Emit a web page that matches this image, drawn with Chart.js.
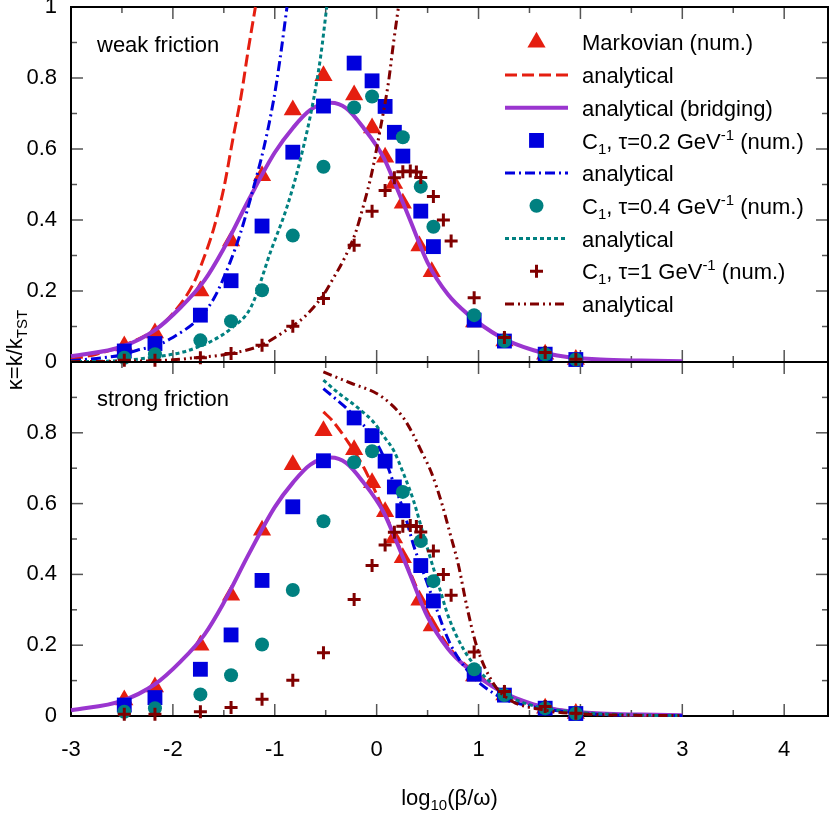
<!DOCTYPE html>
<html>
<head>
<meta charset="utf-8">
<script src="https://cdn.jsdelivr.net/npm/chart.js@4.4.1/dist/chart.umd.min.js"></script>
<style>
  html, body { margin: 0; padding: 0; background: #fff; }
  #wrap { position: relative; width: 829px; height: 818px; overflow: hidden;
          font-family: "Liberation Sans", Arial, sans-serif; font-size: 22px; color: #000; }
  #wrap canvas { position: absolute; left: 0; top: 0; }
  .lbl { position: absolute; white-space: nowrap; line-height: 22px; }
  .sb { font-size: 15px; vertical-align: -5px; line-height: 0; }
  .sp { font-size: 15px; vertical-align: 9px; line-height: 0; }
</style>
</head>
<body>
<div id="wrap">
  <canvas id="weak" width="829" height="818"></canvas>
  <canvas id="strong" width="829" height="818"></canvas>
  <div class="lbl" style="left:97px;top:34px">weak friction</div>
  <div class="lbl" style="left:97px;top:388px">strong friction</div>
  <div class="lbl" id="ytitle" style="left:-85px;top:339px;width:200px;text-align:center;transform:rotate(-90deg)">κ=k/k<span class="sb">TST</span></div>
  <div class="lbl" id="xtitle" style="left:71px;top:787px;width:757px;text-align:center">log<span class="sb">10</span>(β/ω)</div>
</div>
<script>
// axis ticks
const xTicks = [-3, -2, -1, 0, 1, 2, 3, 4];
const xMinor = [-2.5, -1.5, -0.5, 0.5, 1.5, 2.5, 3.5];
const yTicks = [0, 0.2, 0.4, 0.6, 0.8, 1];
const yMinor = [0.1, 0.3, 0.5, 0.7, 0.9];

// numerical results (same in both panels)
const triX = [-2.477, -2.176, -1.73, -1.429, -1.125, -0.823, -0.522, -0.221, -0.045, 0.083, 0.171, 0.257, 0.42, 0.541, 0.957, 1.254, 1.654, 1.955];
const triY = [0.045, 0.082, 0.200, 0.341, 0.525, 0.710, 0.806, 0.752, 0.659, 0.577, 0.503, 0.447, 0.327, 0.254, 0.113, 0.059, 0.022, 0.007];
const sqX = [-2.477, -2.176, -1.73, -1.429, -1.125, -0.823, -0.522, -0.221, -0.045, 0.083, 0.174, 0.257, 0.433, 0.557, 0.957, 1.254, 1.654, 1.955];
const sqY = [0.031, 0.052, 0.132, 0.229, 0.383, 0.591, 0.721, 0.842, 0.792, 0.720, 0.647, 0.580, 0.425, 0.325, 0.118, 0.059, 0.022, 0.007];
const cirX = [-2.477, -2.176, -1.73, -1.429, -1.125, -0.823, -0.522, -0.221, -0.045, 0.257, 0.433, 0.557, 0.957, 1.254, 1.654, 1.955];
const cirY = [0.012, 0.022, 0.061, 0.115, 0.202, 0.356, 0.550, 0.717, 0.748, 0.633, 0.494, 0.381, 0.132, 0.059, 0.022, 0.007];
const plX = [-2.477, -2.176, -1.73, -1.429, -1.125, -0.823, -0.522, -0.221, -0.045, 0.083, 0.174, 0.257, 0.33, 0.39, 0.433, 0.557, 0.655, 0.731, 0.957, 1.254, 1.654, 1.955];
const plY = [0.005, 0.005, 0.012, 0.024, 0.047, 0.101, 0.179, 0.329, 0.425, 0.483, 0.519, 0.536, 0.538, 0.535, 0.520, 0.466, 0.400, 0.341, 0.181, 0.069, 0.027, 0.008];

// bridging formula (both panels)
const purX = [-3, -2.5, -2.18, -1.92, -1.69, -1.51, -1.25, -1.0, -0.82, -0.65, -0.45, -0.3, -0.13, 0.066, 0.198, 0.328, 0.5, 0.7, 0.885, 1.21, 1.54, 1.87, 2.2, 2.6, 3.0];
const purY = [0.016, 0.043, 0.089, 0.155, 0.23, 0.315, 0.46, 0.59, 0.66, 0.71, 0.73, 0.715, 0.66, 0.577, 0.49, 0.40, 0.28, 0.19, 0.137, 0.071, 0.033, 0.014, 0.007, 0.004, 0.002];

// weak friction analytical curves
const redWX = [-3, -2.75, -2.5, -2.18, -2.0, -1.8, -1.7, -1.6, -1.5, -1.41, -1.33, -1.26, -1.19];
const redWY = [0.008, 0.022, 0.045, 0.09, 0.137, 0.22, 0.29, 0.375, 0.49, 0.63, 0.75, 0.88, 1.0];
const bluWX = [-3, -2.75, -2.5, -2.35, -2.13, -2.02, -1.73, -1.59, -1.44, -1.34, -1.21, -1.11, -1.01, -0.95, -0.88];
const bluWY = [0.004, 0.01, 0.02, 0.033, 0.05, 0.066, 0.127, 0.183, 0.28, 0.36, 0.49, 0.6, 0.74, 0.85, 1.0];
const tealWX = [-3, -2.5, -2.18, -1.9, -1.756, -1.6, -1.43, -1.233, -1.036, -0.88, -0.75, -0.62, -0.55, -0.49];
const tealWY = [0.001, 0.004, 0.014, 0.028, 0.042, 0.062, 0.094, 0.155, 0.315, 0.437, 0.569, 0.738, 0.86, 1.0];
const drWX = [-3, -2.5, -2.0, -1.85, -1.43, -1.135, -0.84, -0.71, -0.52, -0.447, -0.31, -0.21, -0.13, -0.048, 0.034, 0.115, 0.165, 0.214];
const drWY = [0.001, 0.002, 0.006, 0.01, 0.024, 0.047, 0.099, 0.127, 0.19, 0.225, 0.296, 0.362, 0.44, 0.532, 0.654, 0.786, 0.898, 1.0];

// strong friction analytical curves
const redSX = [-0.523, -0.44, -0.293, -0.13, 0.083, 0.3, 0.525, 0.75, 1.0, 1.25, 1.5, 2.0, 2.5, 3.0];
const redSY = [0.859, 0.836, 0.779, 0.704, 0.572, 0.425, 0.28, 0.18, 0.115, 0.065, 0.035, 0.01, 0.003, 0.001];
const bluSX = [-0.523, -0.33, -0.21, -0.048, 0.083, 0.18, 0.262, 0.377, 0.433, 0.557, 0.72, 0.917, 1.21, 1.5, 2.0, 2.5, 3.0];
const bluSY = [0.925, 0.878, 0.845, 0.793, 0.723, 0.647, 0.582, 0.469, 0.426, 0.327, 0.205, 0.12, 0.054, 0.028, 0.008, 0.002, 0.001];
const tealSX = [-0.523, -0.39, -0.195, -0.03, 0.083, 0.165, 0.263, 0.36, 0.476, 0.623, 0.705, 0.85, 1.0, 1.25, 1.5, 2.0, 2.5, 3.0];
const tealSY = [0.949, 0.916, 0.873, 0.83, 0.785, 0.751, 0.685, 0.61, 0.495, 0.356, 0.28, 0.19, 0.13, 0.065, 0.032, 0.01, 0.003, 0.001];
const drSX = [-0.523, -0.25, 0.0, 0.132, 0.263, 0.35, 0.427, 0.541, 0.64, 0.72, 0.8, 0.885, 0.983, 1.146, 1.31, 1.64, 2.0, 2.5, 3.0];
const drSY = [0.972, 0.94, 0.911, 0.883, 0.842, 0.80, 0.755, 0.685, 0.6, 0.516, 0.43, 0.31, 0.196, 0.092, 0.045, 0.017, 0.006, 0.002, 0.001];

const legendLabels = [
  'Markovian (num.)',
  'analytical',
  'analytical (bridging)',
  'C<span class="sb">1</span>, τ=0.2 GeV<span class="sp">-1</span> (num.)',
  'analytical',
  'C<span class="sb">1</span>, τ=0.4 GeV<span class="sp">-1</span> (num.)',
  'analytical',
  'C<span class="sb">1</span>, τ=1 GeV<span class="sp">-1</span> (num.)',
  'analytical'
];

const RED = '#e51e10', PURPLE = '#9a35cf', BLUE = '#0000dd', TEAL = '#008080', DRED = '#800000';

Chart.defaults.font.family = '"Liberation Sans", Arial, sans-serif';
Chart.defaults.font.size = 22;
Chart.defaults.color = '#000';

const pts = (xs, ys) => xs.map((x, i) => ({ x: x, y: ys[i] }));

function markerSet(label, xs, ys, style, color, radius) {
  return {
    label: label, data: pts(xs, ys), showLine: false,
    pointStyle: style, pointRadius: radius,
    pointBackgroundColor: color, pointBorderColor: color,
    pointBorderWidth: style === 'cross' ? 3 : 0,
    clip: false
  };
}

function curveSet(label, xs, ys, color, width, dash) {
  return {
    label: label, data: pts(xs, ys), showLine: true, pointRadius: 0,
    borderColor: color, borderWidth: width, borderDash: dash,
    cubicInterpolationMode: 'monotone', fill: false, clip: 1
  };
}

// inward ticks on all four sides plus the frame
const axesDecor = {
  id: 'axesDecor',
  beforeDatasetsDraw(chart) {
    const { ctx, chartArea: a, scales } = chart;
    const sx = scales.x, sy = scales.y;
    ctx.save();
    ctx.lineWidth = 1.5;
    ctx.strokeStyle = '#555';
    const seg = (x1, y1, x2, y2) => { ctx.beginPath(); ctx.moveTo(x1, y1); ctx.lineTo(x2, y2); ctx.stroke(); };
    const xt = (vals, len) => vals.forEach(v => {
      const p = sx.getPixelForValue(v);
      if (p <= a.left + 1 || p >= a.right - 1) return;
      seg(p, a.bottom, p, a.bottom - len);
      seg(p, a.top, p, a.top + len);
    });
    const yt = (vals, len) => vals.forEach(v => {
      const p = sy.getPixelForValue(v);
      if (p <= a.top + 1 || p >= a.bottom - 1) return;
      seg(a.left, p, a.left + len, p);
      seg(a.right, p, a.right - len, p);
    });
    xt(xTicks, 12); xt(xMinor, 6);
    yt(yTicks, 12); yt(yMinor, 6);
    ctx.strokeStyle = '#000';
    ctx.lineWidth = 2;
    ctx.strokeRect(a.left, a.top, a.right - a.left, a.bottom - a.top);
    ctx.restore();
  }
};

const LEG_X0 = 505, LEG_X1 = 568, LEG_BASE = 51, LEG_STEP = 32.7;

// key samples drawn from the dataset styles
const legendDecor = {
  id: 'legendDecor',
  afterDraw(chart) {
    const ctx = chart.ctx;
    chart.data.datasets.forEach((d, i) => {
      const cy = LEG_BASE + LEG_STEP * i - 8.7;
      const cx = (LEG_X0 + LEG_X1) / 2;
      ctx.save();
      if (d.showLine) {
        ctx.strokeStyle = d.borderColor;
        ctx.lineWidth = d.borderWidth;
        ctx.setLineDash(d.borderDash || []);
        ctx.beginPath(); ctx.moveTo(LEG_X0, cy); ctx.lineTo(LEG_X1, cy); ctx.stroke();
      } else {
        ctx.fillStyle = d.pointBackgroundColor;
        ctx.strokeStyle = d.pointBorderColor;
        const r = d.pointRadius;
        ctx.beginPath();
        if (d.pointStyle === 'triangle') {
          ctx.moveTo(cx, cy - r);
          ctx.lineTo(cx + 0.866 * r, cy + 0.5 * r);
          ctx.lineTo(cx - 0.866 * r, cy + 0.5 * r);
          ctx.closePath(); ctx.fill();
        } else if (d.pointStyle === 'rect') {
          const s = r * Math.SQRT1_2;
          ctx.rect(cx - s, cy - s, 2 * s, 2 * s); ctx.fill();
        } else if (d.pointStyle === 'circle') {
          ctx.arc(cx, cy, r, 0, Math.PI * 2); ctx.fill();
        } else {
          ctx.lineWidth = d.pointBorderWidth;
          ctx.moveTo(cx - r, cy); ctx.lineTo(cx + r, cy);
          ctx.moveTo(cx, cy - r); ctx.lineTo(cx, cy + r); ctx.stroke();
        }
      }
      ctx.restore();
    });
  }
};

function buildSets(red, blue, teal, dred) {
  const sets = [
    markerSet('Markovian (num.)', triX, triY, 'triangle', RED, 10.5),
    curveSet('analytical', red[0], red[1], RED, 3, [12, 5]),
    curveSet('analytical (bridging)', purX, purY, PURPLE, 4, []),
    markerSet('C1, tau=0.2 (num.)', sqX, sqY, 'rect', BLUE, 10.5),
    curveSet('analytical', blue[0], blue[1], BLUE, 3, [10, 4, 2, 4]),
    markerSet('C1, tau=0.4 (num.)', cirX, cirY, 'circle', TEAL, 7),
    curveSet('analytical', teal[0], teal[1], TEAL, 3, [4, 3]),
    markerSet('C1, tau=1 (num.)', plX, plY, 'cross', DRED, 6.5),
    curveSet('analytical', dred[0], dred[1], DRED, 3, [9, 4, 2, 4, 2, 4])
  ];
  // later series on top, like the original plot
  sets.forEach((s, i) => { s.order = 20 - i; });
  return sets;
}

function makeChart(id, sets, panel) {
  const isTop = panel === 'top';
  const yVals = isTop ? yTicks : yTicks.filter(v => v < 1);
  return new Chart(document.getElementById(id), {
    type: 'scatter',
    data: { datasets: sets },
    options: {
      responsive: false,
      devicePixelRatio: 1,
      animation: false,
      events: [],
      layout: {
        autoPadding: false,
        padding: isTop ? { left: 0, top: 7, right: 1, bottom: 456 } : { left: 0, top: 362, right: 1, bottom: 0 }
      },
      plugins: { legend: { display: false }, tooltip: { enabled: false } },
      scales: {
        x: {
          type: 'linear', min: -3, max: 4.43,
          grid: { display: false, drawTicks: false },
          border: { display: false },
          afterBuildTicks: s => { s.ticks = xTicks.map(v => ({ value: v })); },
          ticks: {
            display: !isTop, padding: 21, autoSkip: false, maxRotation: 0,
            callback: v => String(v)
          },
          afterFit: s => { s.height = isTop ? 0 : 102; s.paddingLeft = 0; s.paddingRight = 0; }
        },
        y: {
          type: 'linear', min: 0, max: 1,
          grid: { display: false, drawTicks: false },
          border: { display: false },
          afterBuildTicks: s => { s.ticks = yVals.map(v => ({ value: v })); },
          ticks: { padding: 14, callback: v => String(+v.toFixed(1)) },
          afterFit: s => { s.width = 71; s.paddingTop = 0; s.paddingBottom = 0; }
        }
      }
    },
    plugins: isTop ? [axesDecor, legendDecor] : [axesDecor]
  });
}

makeChart('weak', buildSets([redWX, redWY], [bluWX, bluWY], [tealWX, tealWY], [drWX, drWY]), 'top');
makeChart('strong', buildSets([redSX, redSY], [bluSX, bluSY], [tealSX, tealSY], [drSX, drSY]), 'bottom');

// legend text
const wrap = document.getElementById('wrap');
legendLabels.forEach((t, i) => {
  const el = document.createElement('div');
  el.className = 'lbl';
  el.style.left = '582px';
  el.style.top = (LEG_BASE + LEG_STEP * i - 18.6) + 'px';
  el.innerHTML = t;
  wrap.appendChild(el);
});
</script>
</body>
</html>
